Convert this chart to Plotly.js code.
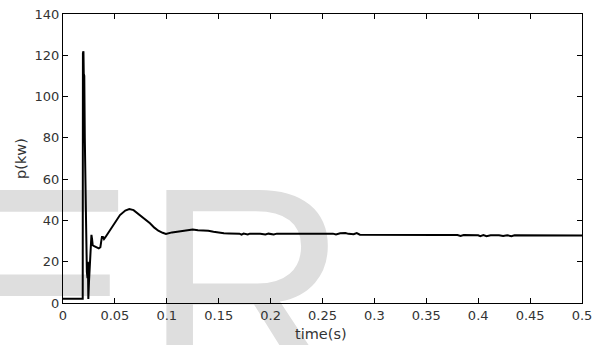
<!DOCTYPE html>
<html>
<head>
<meta charset="utf-8">
<script src="https://cdn.plot.ly/plotly-3.0.1.min.js"></script>
<style>
  html, body { margin: 0; padding: 0; background: #ffffff; }
  #wrap { position: relative; width: 600px; height: 345px; overflow: hidden; }
  #wm { position: absolute; left: 0; top: 0; z-index: 0; }
  #chart { position: absolute; left: 0; top: 0; width: 600px; height: 345px; z-index: 1; }
</style>
</head>
<body>
<div id="wrap">
  <svg id="wm" width="600" height="345">
    <text x="-54" y="386" font-family="Liberation Sans, Arial, sans-serif" font-size="285" fill="#dedede">E</text>
    <text x="143" y="386" font-family="Liberation Sans, Arial, sans-serif" font-size="285" fill="#dedede">R</text>
  </svg>
  <div id="chart"></div>
</div>
<script>
// time (s)
const timeS = [
  0, 0.0100, 0.0190, 0.0192, 0.0197, 0.0200, 0.0205, 0.0210, 0.0215, 0.0222,
  0.0230, 0.0236, 0.0240, 0.0244, 0.0250, 0.0258, 0.0266, 0.0274, 0.0280, 0.0286,
  0.0300, 0.0320, 0.0345, 0.0360, 0.0375, 0.0385, 0.0395, 0.0410, 0.0430, 0.0453,
  0.0500, 0.0549, 0.0600, 0.0639, 0.0680, 0.0742, 0.0800, 0.0838, 0.0880, 0.0918,
  0.0960, 0.0992, 0.1050, 0.1100, 0.1150, 0.1200, 0.1250, 0.1300, 0.1350, 0.1400,
  0.1450, 0.1500, 0.1550, 0.1600, 0.1650, 0.1700, 0.1720, 0.1740, 0.1780, 0.1800,
  0.1900, 0.1950, 0.1980, 0.2030, 0.2060, 0.2200, 0.2400, 0.2600, 0.2630, 0.2670,
  0.2720, 0.2750, 0.2800, 0.2830, 0.2860, 0.3000, 0.3300, 0.3600, 0.3800, 0.3830,
  0.3860, 0.4000, 0.4020, 0.4050, 0.4080, 0.4120, 0.4200, 0.4240, 0.4280, 0.4320,
  0.4350, 0.4500, 0.4700, 0.5000
];
// active power p (kW)
const powerKW = [
  2, 2, 2, 121, 122, 111, 110, 80, 46, 40,
  15, 12, 20, 2, 10, 18, 28, 33, 31, 28,
  27.5, 27, 26.5, 27, 32, 32, 31, 32, 33.5, 35.5,
  39, 42.6, 44.8, 45.5, 45, 42.6, 40, 38.6, 36.5, 35,
  34, 33.5, 34.2, 34.6, 35.0, 35.4, 35.6, 35.3, 35.2, 35.0,
  34.5, 34.1, 33.8, 33.7, 33.7, 33.6, 33.1, 33.6, 33.2, 33.6,
  33.6, 33.2, 33.6, 33.2, 33.6, 33.6, 33.6, 33.6, 33.2, 33.8,
  33.9, 33.5, 33.3, 33.9, 33.1, 33.0, 33.0, 32.9, 32.9, 32.5,
  32.9, 32.8, 32.4, 32.9, 32.4, 32.8, 32.8, 32.5, 32.8, 32.4,
  32.8, 32.8, 32.7, 32.7
];
const xTickVals = [0, 0.05, 0.1, 0.15, 0.2, 0.25, 0.3, 0.35, 0.4, 0.45, 0.5];
const xTickText = ['0', '0.05', '0.1', '0.15', '0.2', '0.25', '0.3', '0.35', '0.4', '0.45', '0.5'];
const yTickVals = [0, 20, 40, 60, 80, 100, 120, 140];
const yTickText = ['0', '20', '40', '60', '80', '100', '120', '140'];

const tickFont = { family: 'DejaVu Sans, sans-serif', size: 13, color: '#333333' };
const titleFont = { family: 'DejaVu Sans, sans-serif', size: 14.5, color: '#333333' };

const trace = {
  x: timeS, y: powerKW, type: 'scatter', mode: 'lines',
  line: { color: '#000000', width: 2 }, hoverinfo: 'skip'
};

const layout = {
  width: 600, height: 345,
  margin: { l: 63, r: 18, t: 14, b: 42, pad: 0 },
  paper_bgcolor: 'rgba(0,0,0,0)', plot_bgcolor: 'rgba(0,0,0,0)',
  showlegend: false,
  xaxis: {
    range: [0, 0.5], autorange: false,
    tickmode: 'array', tickvals: xTickVals, ticktext: xTickText,
    ticks: 'inside', ticklen: 5, tickwidth: 1, tickcolor: '#000',
    showline: true, linecolor: '#000', linewidth: 1, mirror: 'ticks',
    showgrid: false, zeroline: false,
    tickfont: tickFont
  },
  yaxis: {
    range: [0, 140], autorange: false,
    tickmode: 'array', tickvals: yTickVals, ticktext: yTickText,
    ticks: 'inside', ticklen: 5, tickwidth: 1, tickcolor: '#000',
    showline: true, linecolor: '#000', linewidth: 1, mirror: 'ticks',
    showgrid: false, zeroline: false,
    tickfont: tickFont,
    title: { text: 'p(kw)', font: titleFont, standoff: 4 }
  },
  annotations: [{
    text: 'time(s)', font: titleFont, showarrow: false,
    xref: 'paper', yref: 'paper', x: 0.497, y: 0, yshift: -31,
    xanchor: 'center', yanchor: 'middle'
  }]
};

Plotly.newPlot('chart', [trace], layout, { staticPlot: true, displayModeBar: false });
</script>
</body>
</html>
